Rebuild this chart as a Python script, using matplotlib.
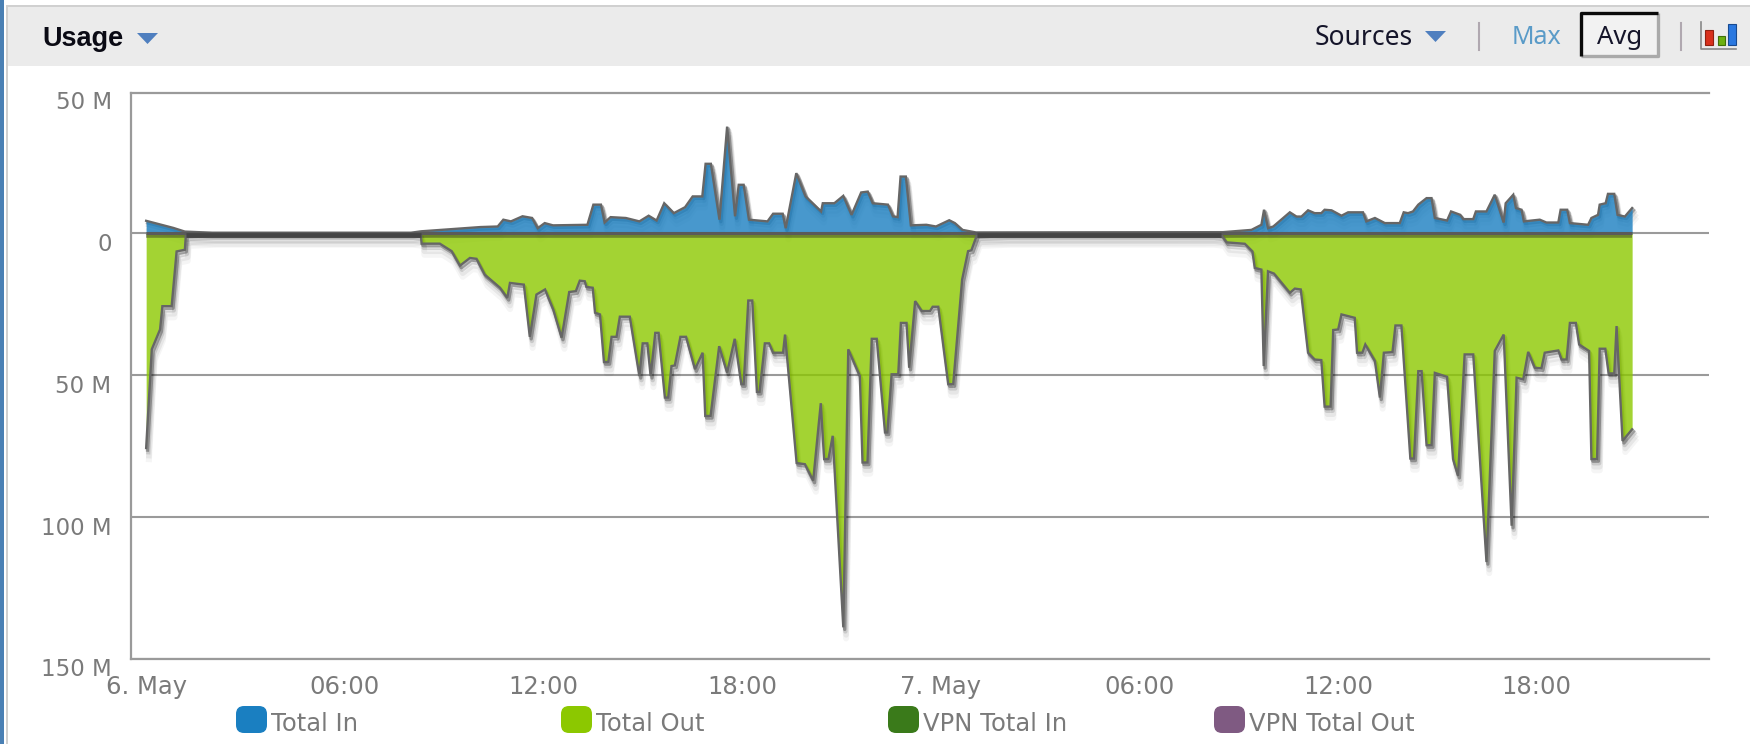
import matplotlib
matplotlib.use("Agg")
import matplotlib.pyplot as plt
from matplotlib.patches import FancyBboxPatch, Polygon, Rectangle
from matplotlib.transforms import ScaledTranslation

# hours since 6 May 00:00
out_hours = [0.0, 0.17, 0.42, 0.49, 0.77, 0.92, 1.17, 1.2, 2.0, 8.0, 8.3, 8.32, 8.87, 9.23, 9.48, 9.78, 9.98,
             10.23, 10.69, 10.91, 10.99, 11.41, 11.59, 11.79, 12.05, 12.3, 12.55, 12.78, 12.98, 13.1, 13.25,
             13.3, 13.49, 13.56, 13.71, 13.83, 13.96, 14.06, 14.21, 14.31, 14.61, 14.9, 15.0, 15.14, 15.24,
             15.38, 15.48, 15.67, 15.77, 15.87, 15.97, 16.14, 16.31, 16.58, 16.81, 16.89, 17.05, 17.31, 17.55,
             17.78, 17.98, 18.05, 18.19, 18.31, 18.45, 18.53, 18.69, 18.82, 18.94, 19.24, 19.3, 19.65, 19.9,
             20.15, 20.38, 20.48, 20.61, 20.74, 21.06, 21.21, 21.56, 21.64, 21.79, 21.92, 22.07, 22.32, 22.39,
             22.52, 22.72, 22.8, 22.97, 23.05, 23.23, 23.43, 23.68, 23.76, 23.93, 24.23, 24.38, 24.65, 24.83,
             24.93, 25.1, 26.0, 32.2, 32.48, 32.64, 33.19, 33.42, 33.49, 33.69, 33.76, 33.89, 34.07, 34.55,
             34.7, 34.88, 35.1, 35.3, 35.5, 35.6, 35.78, 35.86, 36.01, 36.11, 36.51, 36.58, 36.74, 36.83,
             37.12, 37.27, 37.39, 37.65, 37.74, 37.92, 38.19, 38.3, 38.43, 38.53, 38.68, 38.83, 38.93, 39.3,
             39.48, 39.63, 39.83, 40.09, 40.49, 40.74, 41.01, 41.25, 41.4, 41.6, 41.75, 41.95, 42.15, 42.25,
             42.66, 42.76, 42.91, 43.01, 43.19, 43.29, 43.59, 43.66, 43.83, 43.91, 44.08, 44.18, 44.35, 44.42,
             44.6, 44.89]
out_values = [-75.8, -41, -34, -25.8, -25.8, -6.5, -5.9, -0.6, -0.2, -0.2, -0.6, -3.75, -3.75, -6.4, -11.5, -8.8, -9.1,
              -14.7, -19.3, -22.9, -17.6, -18.2, -36.6, -21.7, -19.9, -27, -36.9, -20.8, -20.5, -16.8, -17,
              -19, -19.3, -28.1, -28.7, -45.5, -45.5, -36.6, -36.6, -29.5, -29.5, -50.4, -38.9, -38.9, -50.4,
              -35.2, -35.2, -58, -58, -46.9, -46.7, -36.6, -36.6, -48, -42.2, -64.5, -64.5, -39.9, -49.2,
              -37.3, -53.3, -53.3, -23.8, -23.8, -56, -56, -38.9, -38.9, -42.2, -42.2, -35.8, -81.1, -81.5,
              -87.3, -60, -79.7, -79.7, -71.5, -139, -41, -50.4, -80.9, -80.9, -37.3, -37.3, -70.3, -70.3,
              -49.8, -49.8, -31.7, -31.7, -47.5, -24, -27.5, -27.5, -26, -26, -53.3, -53.3, -16.4, -6.4,
              -6.1, -0.6, -0.2, -0.2, -0.6, -3.3, -3.8, -6.5, -12.3, -12.9, -46.9, -13.5, -14.3, -21.1,
              -19.6, -19.9, -42.2, -44.6, -44.8, -61.2, -61.2, -34.2, -34, -28.7, -29.9, -42.2, -42.2, -39.3,
              -45.1, -58, -42.2, -42, -32.6, -32.6, -79.5, -79.5, -48.7, -48.7, -74.8, -74.8, -49.3, -50.7,
              -79.7, -85.6, -42.8, -42.8, -116, -41.6, -35.8, -103.2, -51, -51.6, -41.9, -47.5, -47.7, -42.2,
              -41.4, -44.6, -44.6, -31.7, -31.7, -39.3, -41.6, -79.7, -79.7, -40.8, -40.8, -49.5, -49.5, -32.8,
              -73.3, -69.2]

in_hours = [0.0, 0.82, 1.17, 2.0, 8.0, 8.31, 10.1, 10.62, 10.79, 11.02, 11.37, 11.66, 11.83, 12.04, 12.29, 13.33,
            13.51, 13.74, 13.85, 14.03, 14.49, 14.9, 15.18, 15.42, 15.65, 15.94, 16.28, 16.51, 16.8, 16.9,
            17.06, 17.32, 17.55, 17.79, 17.9, 18.05, 18.21, 18.77, 18.94, 19.23, 19.32, 19.64, 19.92, 20.39,
            20.44, 20.79, 21.06, 21.31, 21.6, 21.8, 21.95, 22.41, 22.56, 22.7, 22.79, 22.95, 23.1, 23.57,
            23.86, 24.26, 24.43, 24.66, 25.07, 32.53, 33.39, 33.69, 33.77, 33.89, 34.05, 34.55, 34.75, 34.9,
            35.1, 35.3, 35.5, 35.6, 35.81, 36.11, 36.31, 36.76, 36.86, 37.12, 37.42, 37.87, 37.99, 38.12,
            38.27, 38.43, 38.68, 38.83, 38.93, 39.3, 39.42, 39.7, 39.79, 40.09, 40.17, 40.49, 40.74, 41.01,
            41.07, 41.3, 41.38, 41.55, 41.62, 42.1, 42.3, 42.66, 42.73, 42.93, 43.01, 43.56, 43.66, 43.86,
            43.91, 44.09, 44.16, 44.35, 44.45, 44.67, 44.89]
in_values = [4.3, 1.8, 0.5, 0.1, 0.1, 0.6, 2.1, 2.3, 4.7, 4.1, 5.9, 5.3, 1.7, 3.5, 2.7, 2.9,
             10, 10, 3.7, 5.6, 5.3, 4.1, 6.1, 4.4, 10.5, 7, 9.1, 12.9, 12.9, 24.4,
             24.4, 4.7, 37.5, 5.9, 17, 17, 4.7, 4.1, 6.8, 6.8, 1.7, 21.1, 12.9, 7.6,
             10.5, 10.5, 13.1, 6.4, 14.3, 14.6, 10.5, 10, 5.9, 5.6, 19.9, 19.9, 2.7, 2.9,
             2.3, 4.5, 3.5, 1.1, 0.2, 0.3, 1.1, 2.9, 8.2, 1.7, 2.3, 7.3, 5.8, 5.8,
             8, 7, 7, 8.2, 8, 6.1, 7.3, 7.3, 4.1, 5.3, 3.5, 3.5, 7.3, 7,
             7.6, 10, 12.3, 12.3, 5.3, 4.4, 7.6, 6.4, 4.9, 4.9, 7.6, 7.6, 13.5, 3.7,
             10.5, 13.5, 8.8, 8.2, 4.1, 4.7, 3.7, 3.7, 8.2, 8.2, 3.5, 2.9, 5.3, 6.4,
             10, 10.5, 13.8, 13.8, 6.4, 5.8, 8.8]

# stretches with next to no traffic
idle_spans = [(1.2, 8.3), (25.1, 32.48)]

y_ticks = [50, 0, -50, -100, -150]
y_labels = ["50 M", "0", "50 M", "100 M", "150 M"]
x_ticks = [0, 6, 12, 18, 24, 30, 36, 42]
x_labels = ["6. May", "06:00", "12:00", "18:00", "7. May", "06:00", "12:00", "18:00"]
legend_names = ["Total In", "Total Out", "VPN Total In", "VPN Total Out"]
legend_colors = ["#1a7fc1", "#8cc800", "#3a7a1a", "#7f5a82"]

W, H = 1750, 744
GREY = "#7a7a7a"
GRID = "#9a9a9a"
FONT = "DejaVu Sans"
HEAD = "Noto Sans"

fig = plt.figure(figsize=(W / 100, H / 100), dpi=100, facecolor="white")

# overlay in pixel coordinates for the page furniture
page = fig.add_axes([0, 0, 1, 1], zorder=0)
page.set_xlim(0, W)
page.set_ylim(H, 0)
page.axis("off")

page.add_patch(Rectangle((0, 0), 3.5, H, color="#4a80b4", lw=0))
page.add_patch(Rectangle((6, 5), 1.5, H, color="#d0d0d0", lw=0))
page.add_patch(Rectangle((6, 5), W, 1.5, color="#d0d0d0", lw=0))
page.add_patch(Rectangle((7.5, 6.5), W, 59, color="#ebebeb", lw=0))

page.text(42, 39, "Usage", fontsize=19.5, fontweight="bold", family="Liberation Sans", color="#0a0a14", va="center")
page.add_patch(Polygon([(137, 33), (158, 33), (147.5, 44)], color="#4f7fbf", lw=0))
page.text(1315, 38, "Sources", fontsize=19, family=HEAD, color="#15152a", va="center")
page.add_patch(Polygon([(1425, 31), (1446, 31), (1435.5, 42)], color="#4f7fbf", lw=0))
page.plot([1479, 1479], [23, 50], color="#b0a8b0", lw=1.5)
page.text(1512, 38, "Max", fontsize=18, family=HEAD, color="#5a9bc8", va="center")
page.add_patch(Rectangle((1581, 13), 77, 43, facecolor="#f2f2f2", lw=0))
page.plot([1581, 1658, 1658], [56, 56, 13], color="#aaaaaa", lw=2.4, solid_capstyle="butt")
page.plot([1581, 1581, 1658], [56, 13, 13], color="#0a0a0a", lw=2.4, solid_capstyle="butt")
page.text(1597, 38, "Avg", fontsize=18.5, family=HEAD, color="#15152a", va="center")
page.plot([1681, 1681], [23, 50], color="#b0a8b0", lw=1.5)
page.plot([1701, 1701, 1736], [22, 49, 49], color="#888888", lw=1.2)
page.add_patch(Rectangle((1704.5, 30), 8.5, 15, facecolor="#d8301c", edgecolor="#902010", lw=0.8))
page.add_patch(Rectangle((1717.5, 36), 7, 9, facecolor="#6cb010", edgecolor="#407008", lw=0.8))
page.add_patch(Rectangle((1728, 24), 8, 21, facecolor="#2a78e0", edgecolor="#184a90", lw=0.8))

# legend row
swatch_x = [236, 561, 888, 1214]
for sx, name, col in zip(swatch_x, legend_names, legend_colors):
    page.add_patch(FancyBboxPatch((sx + 7, 713), 17, 13, boxstyle="round,pad=7,rounding_size=8",
                                  facecolor=col, edgecolor="none"))
    page.text(sx + 35, 724, name, fontsize=17.5, family=FONT, color=GREY, va="center")

# main chart
ax = fig.add_axes([130.6 / W, 1 - 658.5 / H, (1708.6 - 130.6) / W, (658.5 - 92.6) / H], zorder=1)
ax.patch.set_alpha(0)
ax.set_xlim(-0.47, 47.2)
ax.set_ylim(-150, 49.5)

ax.spines["right"].set_visible(False)
for s in ["top", "left", "bottom"]:
    ax.spines[s].set_color(GRID)
    ax.spines[s].set_linewidth(1.6)

ax.set_yticks(y_ticks[1:])
ax.set_yticklabels(y_labels[1:], fontsize=16.5, family=FONT, color=GREY, va="top")
ax.set_xticks(x_ticks)
ax.set_xticklabels(x_labels, fontsize=17.5, family=FONT, color=GREY)
ax.tick_params(axis="both", length=0)
ax.tick_params(axis="y", pad=13.7)
ax.tick_params(axis="x", pad=12)
ax.text(-0.012, 50, y_labels[0], transform=ax.get_yaxis_transform(), fontsize=16.5, family=FONT,
        color=GREY, va="top", ha="right", clip_on=False)
ax.grid(axis="y", color=GRID, lw=1.5, zorder=1)
ax.set_axisbelow(True)


def shifted(artist, dx, dy):
    # move a line by some points, for the soft drop shadow
    artist.set_transform(artist.get_transform() + ScaledTranslation(dx / 72, dy / 72, fig.dpi_scale_trans))


shadows = [(1.0, -1.5, 2.4, 0.30), (1.5, -3.0, 3.2, 0.12), (2.0, -5.5, 4.0, 0.06), (2.0, -8.0, 4.4, 0.04)]
for hours, values, col in [(in_hours, in_values, legend_colors[0]), (out_hours, out_values, legend_colors[1])]:
    for dx, dy, lw, alpha in shadows:
        line, = ax.plot(hours, values, color="black", lw=lw, alpha=alpha, zorder=2)
        shifted(line, dx, dy)
    ax.fill_between(hours, values, 0, color=col, alpha=0.8, lw=0, zorder=3)
    ax.plot(hours, values, color="#666666", lw=1.7, zorder=4, solid_joinstyle="miter")

# the two series meet on the zero line
ax.plot([out_hours[0], out_hours[-1]], [0, 0], color="#5a5a5a", lw=2.2, zorder=4, solid_capstyle="butt")
base, = ax.plot([out_hours[0], out_hours[-1]], [0, 0], color="#303020", lw=2.6, alpha=0.45, zorder=3.5, solid_capstyle="butt")
shifted(base, 0, -2)
for start, end in idle_spans:
    band, = ax.plot([start, end], [0, 0], color="#444444", lw=3.4, zorder=4.5, solid_capstyle="butt")
    shifted(band, 0, -1.2)

fig.savefig("out.png", dpi=100, facecolor="white")
